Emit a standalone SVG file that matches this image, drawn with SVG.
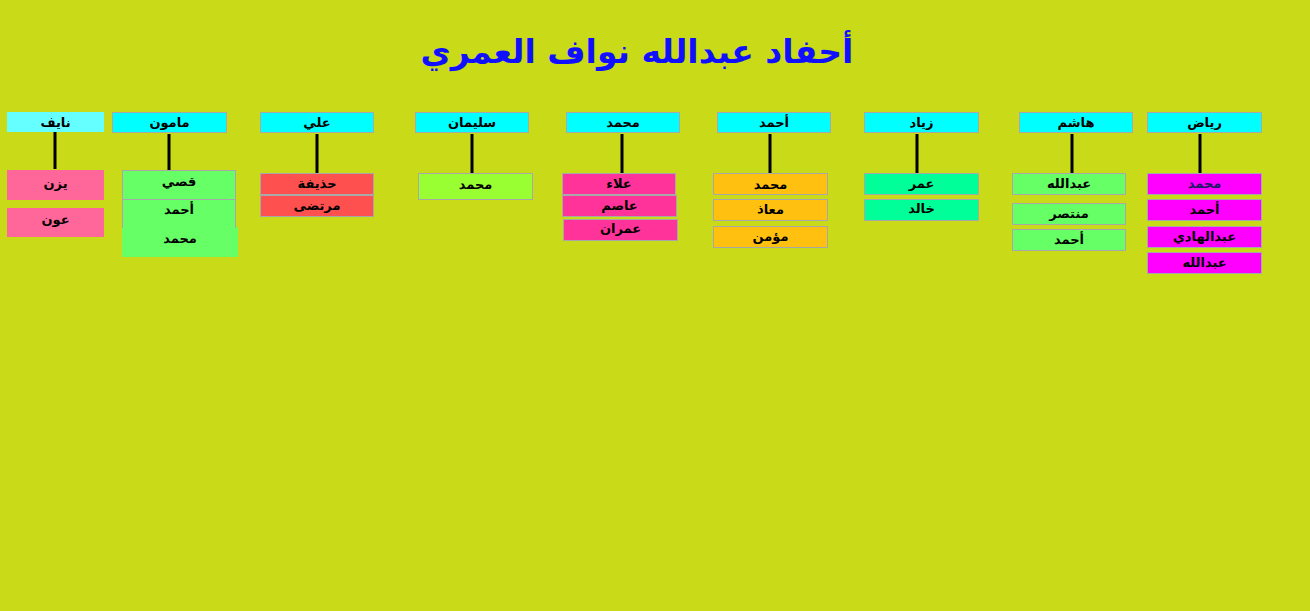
<svg xmlns="http://www.w3.org/2000/svg" width="1310" height="611" viewBox="0 0 1310 611">
<style>
.t{font-family:"DejaVu Sans",sans-serif;font-weight:bold;font-size:13px;fill:#000;text-anchor:middle;dominant-baseline:central}
.b{stroke:#A8A8A8;stroke-width:1}
.h{fill:#00FFFF}
.ln{stroke:#000;stroke-width:3}
</style>
<rect width="1310" height="611" fill="#C8DA18"/>
<text x="637" y="63" font-family="'DejaVu Sans',sans-serif" font-weight="bold" font-size="33" fill="#1010FF" text-anchor="middle">أحفاد عبدالله نواف العمري</text>
<g id="connectors">
<line class="ln" x1="55" y1="132" x2="55" y2="169"/>
<line class="ln" x1="169" y1="134" x2="169" y2="171"/>
<line class="ln" x1="317" y1="134" x2="317" y2="173"/>
<line class="ln" x1="472" y1="134" x2="472" y2="173"/>
<line class="ln" x1="622" y1="134" x2="622" y2="173"/>
<line class="ln" x1="770" y1="134" x2="770" y2="173"/>
<line class="ln" x1="917" y1="134" x2="917" y2="173"/>
<line class="ln" x1="1072" y1="134" x2="1072" y2="173"/>
<line class="ln" x1="1200" y1="134" x2="1200" y2="173"/>
</g>
<g id="n-nayef">
<rect x="7" y="112" width="97" height="20" fill="#66FFFF"/><text class="t" x="55.5" y="122">نايف</text>
<rect x="7" y="170" width="97" height="30" fill="#FF6699"/><text class="t" x="55.5" y="183">يزن</text>
<rect x="7" y="208" width="97" height="29" fill="#FF6699"/><text class="t" x="55.5" y="219">عون</text>
</g>
<g id="n-mamoun">
<rect class="b h" x="112.5" y="112.5" width="114" height="20"/><text class="t" x="169.5" y="122">مامون</text>
<rect x="122" y="227" width="116" height="30" fill="#66FF66"/><text class="t" x="180" y="238">محمد</text>
<rect class="b" x="122.5" y="199.5" width="113" height="28" fill="#66FF66"/>
<rect x="123" y="226" width="112" height="3" fill="#66FF66"/>
<rect class="b" x="122.5" y="170.5" width="113" height="29" fill="#66FF66"/>
<text class="t" x="179" y="181">قصي</text>
<text class="t" x="179" y="209">أحمد</text>
</g>
<g id="n-ali">
<rect class="b h" x="260.5" y="112.5" width="113" height="20"/><text class="t" x="317" y="122">علي</text>
<rect class="b" x="260.5" y="173.5" width="113" height="21" fill="#FF5050"/><text class="t" x="317" y="183">حذيفة</text>
<rect class="b" x="260.5" y="195.5" width="113" height="21" fill="#FF5050"/><text class="t" x="317" y="205">مرتضى</text>
</g>
<g id="n-suleiman">
<rect class="b h" x="415.5" y="112.5" width="113" height="20"/><text class="t" x="472" y="122">سليمان</text>
<rect class="b" x="418.5" y="173.5" width="114" height="26" fill="#99FF33"/><text class="t" x="475.5" y="184">محمد</text>
</g>
<g id="n-mohammed">
<rect class="b h" x="566.5" y="112.5" width="113" height="20"/><text class="t" x="623" y="122">محمد</text>
<rect class="b" x="562.5" y="173.5" width="113" height="21" fill="#FF3399"/><text class="t" x="619" y="183">علاء</text>
<rect class="b" x="562.5" y="195.5" width="114" height="21" fill="#FF3399"/><text class="t" x="619.5" y="205">عاصم</text>
<rect class="b" x="563.5" y="219.5" width="114" height="21" fill="#FF3399"/><text class="t" x="620.5" y="228">عمران</text>
</g>
<g id="n-ahmed">
<rect class="b h" x="717.5" y="112.5" width="113" height="20"/><text class="t" x="774" y="122">أحمد</text>
<rect class="b" x="713.5" y="173.5" width="114" height="21" fill="#FFC010"/><text class="t" x="770.5" y="184">محمد</text>
<rect class="b" x="713.5" y="199.5" width="114" height="21" fill="#FFC010"/><text class="t" x="770.5" y="209">معاذ</text>
<rect class="b" x="713.5" y="226.5" width="114" height="21" fill="#FFC010"/><text class="t" x="770.5" y="236">مؤمن</text>
</g>
<g id="n-ziad">
<rect class="b h" x="864.5" y="112.5" width="114" height="20"/><text class="t" x="921.5" y="122">زياد</text>
<rect class="b" x="864.5" y="173.5" width="114" height="21" fill="#00FF99"/><text class="t" x="921.5" y="183">عمر</text>
<rect class="b" x="864.5" y="199.5" width="114" height="21" fill="#00FF99"/><text class="t" x="921.5" y="208">خالد</text>
</g>
<g id="n-hashem">
<rect class="b h" x="1019.5" y="112.5" width="113" height="20"/><text class="t" x="1076" y="122">هاشم</text>
<rect class="b" x="1012.5" y="173.5" width="113" height="21" fill="#66FF66"/><text class="t" x="1069" y="183">عبدالله</text>
<rect class="b" x="1012.5" y="203.5" width="113" height="21" fill="#66FF66"/><text class="t" x="1069" y="213">منتصر</text>
<rect class="b" x="1012.5" y="229.5" width="113" height="21" fill="#66FF66"/><text class="t" x="1069" y="239">أحمد</text>
</g>
<g id="n-riyad">
<rect class="b h" x="1147.5" y="112.5" width="114" height="20"/><text class="t" x="1204.5" y="122">رياض</text>
<rect class="b" x="1147.5" y="173.5" width="114" height="21" fill="#FF00FF"/><text class="t" x="1204.5" y="183" style="fill:#1A1A66">محمد</text>
<rect class="b" x="1147.5" y="199.5" width="114" height="21" fill="#FF00FF"/><text class="t" x="1204.5" y="209">أحمد</text>
<rect class="b" x="1147.5" y="226.5" width="114" height="21" fill="#FF00FF"/><text class="t" x="1204.5" y="236">عبدالهادي</text>
<rect class="b" x="1147.5" y="252.5" width="114" height="21" fill="#FF00FF"/><text class="t" x="1204.5" y="262">عبدالله</text>
</g>
</svg>
